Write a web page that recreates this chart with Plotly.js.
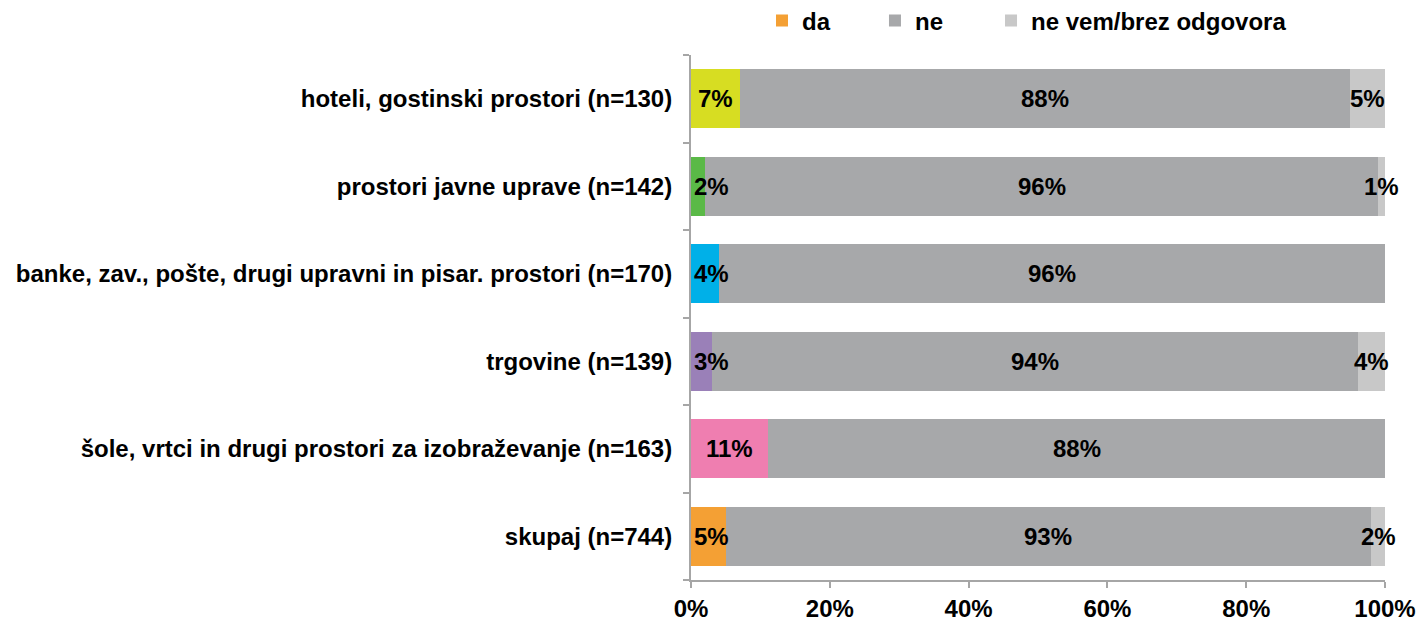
<!DOCTYPE html>
<html>
<head>
<meta charset="utf-8">
<script src="https://cdn.plot.ly/plotly-3.0.1.min.js"></script>
<style>html,body{margin:0;padding:0;background:#fff;}#chart{width:1420px;height:630px;}</style>
</head>
<body>
<div id="chart"></div>
<script>
// categories listed bottom to top
const categories = [
  "skupaj (n=744)",
  "šole, vrtci in drugi prostori za izobraževanje (n=163)",
  "trgovine (n=139)",
  "banke, zav., pošte, drugi upravni in pisar. prostori (n=170)",
  "prostori javne uprave (n=142)",
  "hoteli, gostinski prostori (n=130)"
];
const seriesNames = ["da", "ne", "ne vem/brez odgovora"];
const da = [5, 11, 3, 4, 2, 7];
const ne = [93, 88, 94, 96, 96, 88];
const neVem = [2, 0, 4, 0, 1, 5];
const daColors = ["#f4a034", "#ef7eb0", "#9a80b8", "#00b0e8", "#5ab947", "#d7dd22"];
const neColor = "#a7a8aa";
const neVemColor = "#c8c8c8";

const FONT = "Liberation Sans, Arial, sans-serif";
const series = [da, ne, neVem];

// normalise each row to 100 % (as the bars are drawn normalised)
const totals = categories.map((c, i) => da[i] + ne[i] + neVem[i]);
const norm = series.map(s => s.map((v, i) => v / totals[i] * 100));

const traces = [
  {name: seriesNames[0], x: norm[0], marker: {color: daColors}, legend: "legend"},
  {name: seriesNames[1], x: norm[1], marker: {color: neColor}, legend: "legend2"},
  {name: seriesNames[2], x: norm[2], marker: {color: neVemColor}, legend: "legend3"}
].map(t => Object.assign({type: "bar", orientation: "h", y: categories, hoverinfo: "skip"}, t));

// value labels, centred in each segment (kept inside the plot on the left)
const annotations = [];
categories.forEach((cat, i) => {
  let start = 0;
  series.forEach((s, k) => {
    const w = norm[k][i];
    if (s[i] > 0) {
      const mid = start + w / 2;
      const clampLeft = k === 0 && mid < 2.7;
      annotations.push({
        x: clampLeft ? 0 : mid, y: cat, xref: "x", yref: "y",
        text: s[i] + "%", showarrow: false,
        xanchor: clampLeft ? "left" : "center", yanchor: "middle",
        xshift: clampLeft ? 1 : 0,
        font: {family: FONT, size: 24, color: "#000", weight: "bold"}
      });
    }
    start += w;
  });
});

const legendBase = {
  orientation: "h", xanchor: "left", y: 1.065, yanchor: "middle",
  font: {family: FONT, size: 24, color: "#000", weight: "bold"},
  bgcolor: "rgba(0,0,0,0)"
};
const layout = {
  width: 1420, height: 630,
  margin: {l: 691, r: 35, t: 55, b: 50, autoexpand: false},
  paper_bgcolor: "#fff", plot_bgcolor: "#fff",
  barmode: "stack",
  bargap: 0.33,
  font: {family: FONT, size: 24, color: "#000", weight: "bold"},
  showlegend: true,
  legend: Object.assign({}, legendBase, {x: 0.1023}),
  legend2: Object.assign({}, legendBase, {x: 0.2651}),
  legend3: Object.assign({}, legendBase, {x: 0.4323}),
  annotations: annotations,
  xaxis: {
    range: [0, 100], dtick: 20, tick0: 0, ticksuffix: "%",
    showgrid: false, zeroline: false,
    showline: true, linecolor: "#a6a6a6", linewidth: 2,
    ticks: "outside", ticklen: 6, tickcolor: "#a6a6a6", tickwidth: 2,
    tickfont: {family: FONT, size: 24, color: "#000", weight: "bold"},
    fixedrange: true
  },
  yaxis: {
    type: "category",
    showgrid: false, zeroline: false,
    showline: true, linecolor: "#a6a6a6", linewidth: 2,
    ticks: "outside", ticklen: 6, tickcolor: "#a6a6a6", tickwidth: 2,
    tickson: "boundaries",
    ticklabelstandoff: 12,
    tickfont: {family: FONT, size: 24, color: "#000", weight: "bold"},
    fixedrange: true
  }
};
Plotly.newPlot("chart", traces, layout, {displayModeBar: false, staticPlot: true});
</script>
</body>
</html>
